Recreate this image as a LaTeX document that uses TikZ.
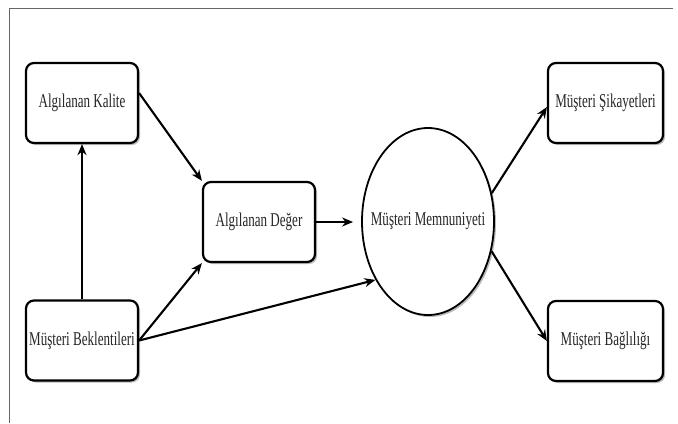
\documentclass[tikz,border=0pt]{standalone}
\usepackage{fontspec}
\newfontfamily\diafont[FakeStretch=0.67]{Liberation Serif}
\usetikzlibrary{shapes.geometric,shadows,arrows.meta}
\tikzset{
  conceptbox/.style={draw=black, line width=2.2bp, rounded corners=8bp, fill=white,
    minimum width=112bp, minimum height=80bp, inner sep=0pt, text=black!85,
    font=\diafont\fontsize{19.5bp}{22bp}\selectfont,
    drop shadow={shadow xshift=2bp, shadow yshift=-2bp, fill=black!45, opacity=0.6}},
  conceptoval/.style={draw=black, line width=1.8bp, ellipse, fill=white,
    minimum width=132bp, minimum height=187bp, inner sep=0pt, text=black!85,
    font=\diafont\fontsize{19.5bp}{22bp}\selectfont,
    drop shadow={shadow xshift=2bp, shadow yshift=-2bp, fill=black!45, opacity=0.6}},
  link/.style={line width=2.1bp, -{Stealth[length=11bp,width=9bp]}},
  framing/.style={line width=1bp, draw=black!60}
}
\begin{document}
\begin{tikzpicture}[x=1bp,y=-1bp]
\useasboundingbox (0,0) rectangle (678,423);
\fill[white] (0,0) rectangle (678,423);
\coordinate (ftl) at (9,8.5);
\coordinate (ftr) at (673,8.5);
\coordinate (fbl) at (9,423);
\draw[framing] (fbl) -- (ftl) -- (ftr);

\node[conceptbox] (kal) at (82,103) {Algılanan Kalite};
\node[conceptbox] (deg) at (259,222) {Algılanan Değer};
\node[conceptbox] (bek) at (82,340.5) {Müşteri Beklentileri};
\node[conceptoval] (mm) at (428,221.5) {\makebox[0pt]{Müşteri Memnuniyeti}};
\node[conceptbox, minimum width=115bp] (sik) at (605.5,103) {Müşteri Şikayetleri};
\node[conceptbox, minimum width=115bp] (bag) at (605.5,341) {Müşteri Bağlılığı};

\draw[link] (bek.north) -- (kal.south);
\draw[link] ([yshift=10bp]kal.east) -- (deg.north west);
\draw[link] (bek.east) -- (deg.south west);
\draw[link] (bek.east) -- (mm.228);
\draw[link, shorten >=8bp] (deg.east) -- (deg.east -| mm.west);
\draw[link] (mm.24) -- ([yshift=-4bp]sik.west);
\draw[link] (mm.-25) -- (bag.west);
\end{tikzpicture}
\end{document}
